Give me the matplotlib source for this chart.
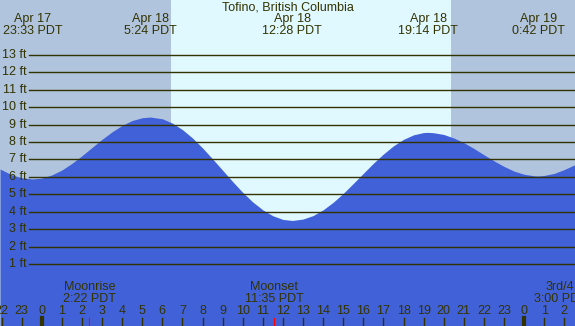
import matplotlib
matplotlib.use("Agg")
import matplotlib.pyplot as plt

# Tide heights (ft), hours from midnight Apr 18 (PDT)
tide_hours = [-2.07, -1.5, -1, -0.45, 0, 0.5, 1, 1.5, 2, 2.5, 3, 3.5, 4, 4.5,
              5, 5.4, 6, 6.5, 7, 7.5, 8, 8.5, 9, 9.5, 10, 10.5, 11, 11.5, 12,
              12.47, 13, 13.5, 14, 14.5, 15, 15.5, 16, 16.5, 17, 17.5, 18,
              18.5, 19, 19.23, 19.5, 20, 20.5, 21, 21.5, 22, 22.5, 23, 23.5,
              24, 24.5, 24.7, 25, 25.5, 26, 26.53]
tide_ft = [6.45, 6.12, 5.95, 5.88, 5.93, 6.11, 6.39, 6.77, 7.21, 7.68, 8.15,
           8.58, 8.95, 9.23, 9.39, 9.43, 9.33, 9.08, 8.71, 8.23, 7.66, 7.03,
           6.38, 5.73, 5.11, 4.56, 4.11, 3.77, 3.56, 3.5, 3.58, 3.78, 4.11,
           4.54, 5.05, 5.62, 6.20, 6.78, 7.31, 7.78, 8.15, 8.41, 8.54, 8.55,
           8.53, 8.43, 8.23, 7.96, 7.63, 7.27, 6.92, 6.60, 6.33, 6.15, 6.06,
           6.05, 6.08, 6.20, 6.42, 6.70]

# high / low tide labels at the top
extreme_hours = [-0.45, 5.4, 12.47, 19.23, 24.7]
extreme_days = ["Apr 17", "Apr 18", "Apr 18", "Apr 18", "Apr 19"]
extreme_times = ["23:33 PDT", "5:24 PDT", "12:28 PDT", "19:14 PDT", "0:42 PDT"]

# moon events at the bottom
moon_hours = [2.37, 11.58, 27.0]
moon_names = ["Moonrise", "Moonset", "3rd/4"]
moon_times = ["2:22 PDT", "11:35 PDT", "3:00 PDT"]

sunrise, sunset = 6.43, 20.36
feet_levels = list(range(1, 14))
hour_ticks = list(range(-2, 27))

W, H = 575, 326
txt = "#333300"
plt.rcParams["font.family"] = ["Liberation Sans", "DejaVu Sans"]
plt.rcParams["font.size"] = 9

fig = plt.figure(figsize=(W / 100, H / 100), dpi=100)
ax = fig.add_axes([0, 0, 1, 1])
x0, x1 = -41.7 / 20.1, (W - 41.7) / 20.1
ax.set_xlim(x0, x1)
ax.set_ylim(-2.55, 16.14)
ax.axis("off")

# night / day background
ax.axvspan(-10, sunrise, color="#b0c4de", lw=0)
ax.axvspan(sunrise, sunset, color="#e0f8ff", lw=0)
ax.axvspan(sunset, 40, color="#b0c4de", lw=0)

# water
ax.fill_between(tide_hours, tide_ft, -5, color="#4161d9", lw=0)

# height lines
for f in feet_levels:
    ax.axhline(f, xmin=29 / W, xmax=1, color="#333300", lw=1.0)
    ax.text(27 / W, f, f"{f} ft", transform=ax.get_yaxis_transform(),
            ha="right", va="center", color=txt)

# top labels
ax.text(0.5, 1 - 7 / H, "Tofino, British Columbia", transform=ax.transAxes,
        ha="center", va="center", color=txt)
for t, d, s in zip(extreme_hours, extreme_days, extreme_times):
    ax.text(t, 1 - 19 / H, d, transform=ax.get_xaxis_transform(),
            ha="center", va="center", color=txt)
    ax.text(t, 1 - 31 / H, s, transform=ax.get_xaxis_transform(),
            ha="center", va="center", color=txt)

# hour ticks and labels
for h in hour_ticks:
    ax.text(h, 1 - 311 / H, str(h % 24), transform=ax.get_xaxis_transform(),
            ha="center", va="center", color=txt)
    ax.axvline(h, ymin=0, ymax=8 / H, color="#333300",
               lw=3 if h % 24 == 0 else 1.0)

# moon events (labels near the right edge are pulled in, as on the original)
label_max = x1 - 0.75
for t, n, s in zip(moon_hours, moon_names, moon_times):
    tx = min(t, label_max)
    ax.text(tx, 1 - 287 / H, n, transform=ax.get_xaxis_transform(),
            ha="center", va="center", color=txt)
    ax.text(tx, 1 - 299 / H, s, transform=ax.get_xaxis_transform(),
            ha="center", va="center", color=txt)
    ax.axvline(t, ymin=0, ymax=8 / H, color="red", lw=0.8)

fig.savefig("out.png", dpi=100)
